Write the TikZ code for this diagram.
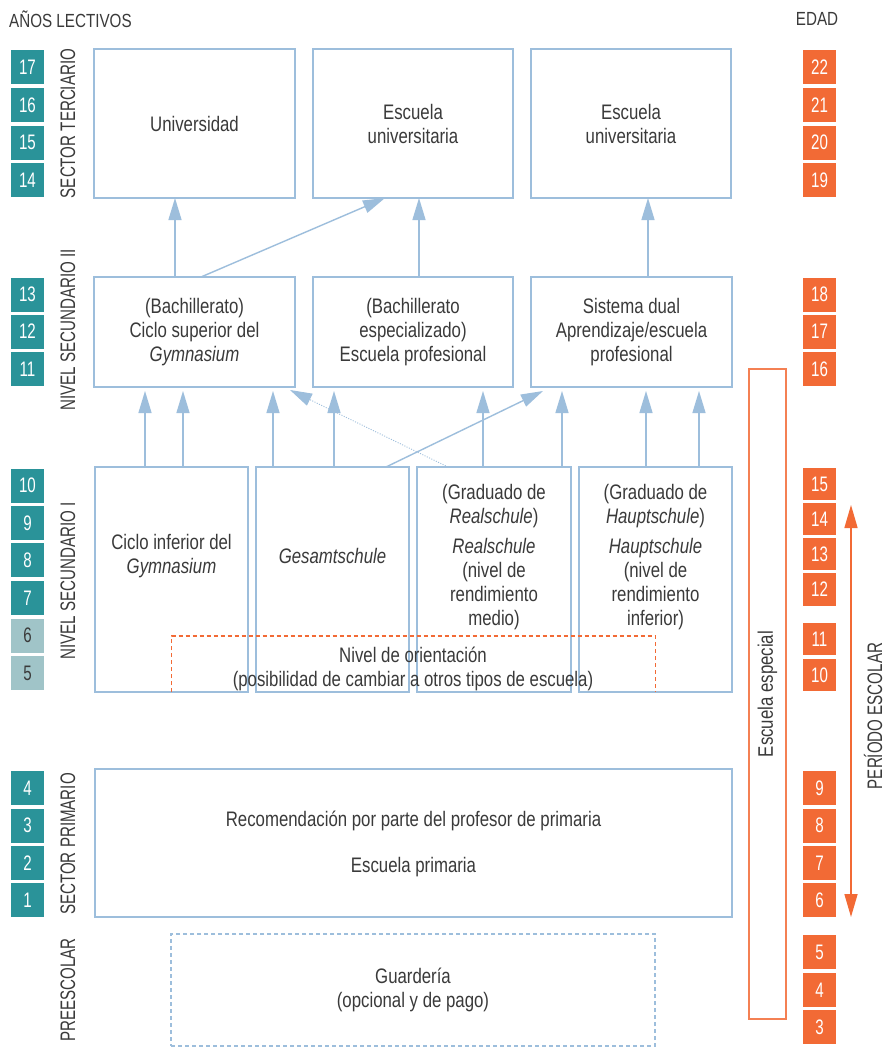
\documentclass[tikz,border=0pt]{standalone}
\usepackage{fontspec}
\setmainfont{Liberation Sans}[FakeStretch=0.80]
\newfontfamily\labfam{Liberation Sans}[FakeStretch=0.72]
\usetikzlibrary{arrows.meta}
\definecolor{teala}{HTML}{2A9399}
\definecolor{tealb}{HTML}{A0C4C8}
\definecolor{orng}{HTML}{F26A35}
\definecolor{bluel}{HTML}{9DBEDC}
\definecolor{txt}{HTML}{3A3A3A}
\newcommand\bodyfnt{\fontsize{21}{24}\selectfont}
\newcommand\labfnt{\labfam\fontsize{21}{24}\selectfont}
\begin{document}
\begin{tikzpicture}[x=1pt,y=-1pt,
  box/.style={draw=bluel, line width=1.4pt, outer sep=0pt, inner sep=0pt, align=center, text=txt, font=\bodyfnt},
  lbl/.style={text=txt, font=\bodyfnt, align=center, inner sep=0pt},
  vlab/.style={text=txt, font=\labfnt, rotate=90, inner sep=0pt},
  tsq/.style={fill=teala, text=white, minimum width=33pt, minimum height=34pt, inner sep=0pt, font=\labfnt},
  lsq/.style={fill=tealb, text=txt, minimum width=33pt, minimum height=34pt, inner sep=0pt, font=\labfnt},
  osq/.style={fill=orng, text=white, minimum width=33pt, minimum height=34pt, inner sep=0pt, font=\labfnt},
  arr/.style={draw=bluel, line width=1.4pt, -{Triangle[length=22pt,width=13pt]}},
  darr/.style={draw=bluel, line width=0.9pt, dash pattern=on 1pt off 1.5pt, -{Triangle[length=22pt,width=13pt]}},
  odash/.style={draw=orng, line width=1.1pt, dash pattern=on 4pt off 3pt},
]
\useasboundingbox (0,0) rectangle (885,1050);
\fill[white] (0,0) rectangle (885,1050);

% headers
\node[lbl, font=\fontsize{19}{22}\selectfont, anchor=west] (hyears) at (9,19) {AÑOS LECTIVOS};
\node[lbl, font=\fontsize{19}{22}\selectfont] (hage) at (817,19) {EDAD};

% left squares
\foreach \n/\y in {17/67,16/105,15/142.5,14/180,13/294.5,12/331.5,11/369,10/485.5,9/523,8/560,7/598,4/788,3/825.5,2/863,1/900}
  \node[tsq] (t\n) at (27.5,\y) {\n};
\node[lsq] (t6) at (27.5,635.5) {6};
\node[lsq] (t5) at (27.5,673) {5};

% right squares
\foreach \n/\y/\h in {22/67/34,21/105/34,20/142.5/34,19/180/34,18/294.5/34,17/331.5/34,16/369/34,15/484/32,14/519/32,13/554/32,12/589.5/33,11/639/32,10/675/32,9/788/34,8/825.5/34,7/863/34,6/900/34,5/952/34,4/990/34,3/1027/34}
  \node[osq, minimum height=\h pt] (o\n) at (819.5,\y) {\n};

% vertical labels
\node[vlab] (lter) at (68,123.5) {SECTOR TERCIARIO};
\node[vlab] (lsec2) at (68,330) {NIVEL SECUNDARIO II};
\node[vlab] (lsec1) at (68,581) {NIVEL SECUNDARIO I};
\node[vlab] (lpri) at (68,844) {SECTOR PRIMARIO};
\node[vlab] (lpre) at (68,990) {PREESCOLAR};

% row 1
\node[box, minimum width=201pt, minimum height=149pt] (uni) at (194.5,123.5) {Universidad};
\node[box, minimum width=200pt, minimum height=149pt] (esc1) at (413,123.5) {Escuela\\universitaria};
\node[box, minimum width=200pt, minimum height=149pt] (esc2) at (631,123.5) {Escuela\\universitaria};

% row 2
\node[box, minimum width=201pt, minimum height=110pt] (bach) at (194.5,332) {(Bachillerato)\\Ciclo superior del\\\textit{Gymnasium}};
\node[box, minimum width=200pt, minimum height=110pt] (bache) at (413,332) {(Bachillerato\\especializado)\\Escuela profesional};
\node[box, minimum width=201pt, minimum height=110pt] (dual) at (631.5,332) {Sistema dual\\Aprendizaje/escuela\\profesional};

% row 3
\node[box, minimum width=153pt, minimum height=225pt] (gym) at (171.5,579.5) {};
\node[box, minimum width=153pt, minimum height=225pt] (ges) at (332.5,579.5) {};
\node[box, minimum width=154pt, minimum height=225pt] (real) at (494,579.5) {};
\node[box, minimum width=153pt, minimum height=225pt] (haupt) at (655.5,579.5) {};

\node[lbl] (gymt) at (171.5,556) {Ciclo inferior del\\\textit{Gymnasium}};
\node[lbl] (gest) at (332.5,556) {\textit{Gesamtschule}};
\node[lbl] (realt1) at (494,506) {(Graduado de\\\textit{Realschule})};
\node[lbl] (realt2) at (494,584) {\textit{Realschule}\\(nivel de\\rendimiento\\medio)};
\node[lbl] (haupt1) at (655.5,506) {(Graduado de\\\textit{Hauptschule})};
\node[lbl] (haupt2) at (655.5,584) {\textit{Hauptschule}\\(nivel de\\rendimiento\\inferior)};

% orientation (dashed orange)
\draw[odash] (gym.south) -- (gym.south |- 0,636) -- (haupt.south |- 0,636) -- (haupt.south);
\node[lbl] (orient) at (413,669) {Nivel de orientación\\(posibilidad de cambiar a otros tipos de escuela)};

% primary
\node[box, minimum width=637pt, minimum height=148pt] (prim) at (413.5,843) {};
\node[lbl] (primt1) at (413.5,821) {Recomendación por parte del profesor de primaria};
\node[lbl] (primt2) at (413.5,867) {Escuela primaria};

% kindergarten
\node[box, dash pattern=on 4pt off 3pt, line width=1.1pt, minimum width=484pt, minimum height=112pt] (guard) at (413,990) {Guardería\\(opcional y de pago)};

% special school
\node[box, draw=orng!85, line width=1.5pt, minimum width=37pt, minimum height=650pt] (espec) at (767.5,694) {};
\node[lbl, rotate=90] (espect) at (767.5,694) {Escuela especial};

% school period arrow
\coordinate (ptop) at (851,505);
\coordinate (pbot) at (851,917);
\draw[draw=orng, line width=1.5pt, {Triangle[length=23pt,width=13pt]}-{Triangle[length=23pt,width=13pt]}, color=orng] (ptop) -- (pbot);
\node[vlab] (periodo) at (873,716) {PERÍODO ESCOLAR};

% arrows row 2 -> row 1
\draw[arr] ([xshift=81pt]bach.north west) -- ([xshift=81pt]uni.south west);
\draw[arr] ([xshift=107pt]bach.north west) -- ([xshift=72pt]esc1.south west);
\draw[arr] ([xshift=106pt]bache.north west) -- ([xshift=106pt]esc1.south west);
\draw[arr] ([xshift=117pt]dual.north west) -- ([xshift=117pt]esc2.south west);

% arrows row 3 -> row 2
\draw[arr] ([xshift=50pt]gym.north west) -- ([xshift=51pt,yshift=-4pt]bach.south west);
\draw[arr] ([xshift=88pt]gym.north west) -- ([xshift=89pt,yshift=-4pt]bach.south west);
\draw[arr] ([xshift=17pt]ges.north west) -- ([xshift=179pt,yshift=-4pt]bach.south west);
\draw[arr] ([xshift=78pt]ges.north west) -- ([xshift=21pt,yshift=-4pt]bache.south west);
\draw[arr] ([xshift=66pt]real.north west) -- ([xshift=170pt,yshift=-4pt]bache.south west);
\draw[arr] ([xshift=145pt]real.north west) -- ([xshift=31pt,yshift=-4pt]dual.south west);
\draw[arr] ([xshift=67pt]haupt.north west) -- ([xshift=115pt,yshift=-4pt]dual.south west);
\draw[arr] ([xshift=120pt]haupt.north west) -- ([xshift=168pt,yshift=-4pt]dual.south west);
\draw[arr] ([xshift=130pt]ges.north west) -- ([xshift=12pt,yshift=-4pt]dual.south west);
\draw[darr] ([xshift=31pt]real.north west) -- ([xshift=-5pt,yshift=-3pt]bach.south east);
\end{tikzpicture}
\end{document}
